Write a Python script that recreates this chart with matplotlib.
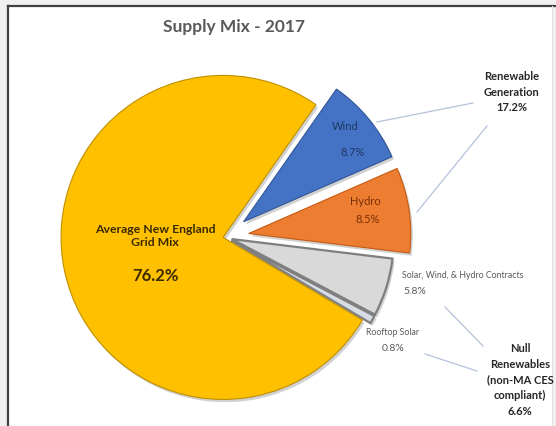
import matplotlib.pyplot as plt
import matplotlib.patheffects as pe
from matplotlib.patches import Rectangle

# Slice data (clockwise from the top right)
labels = ['Wind', 'Hydro', 'Solar, Wind, & Hydro Contracts', 'Rooftop Solar',
          'Average New England Grid Mix']
shares = [8.7, 8.5, 5.8, 0.8, 76.2]
colors = ['#4472C4', '#ED7D31', '#D9D9D9', '#D6DCE4', '#FFC000']
edges = ['#2F5597', '#C55A11', '#7F7F7F', '#7F7F7F', '#BF9000']
explode = [24, 24, 7, 7, 2]   # in pixels, pie uses data units

renewable_total = '17.2%'
null_total = '6.6%'

plt.rcParams['font.family'] = ['Lato', 'DejaVu Sans']

fig = plt.figure(figsize=(5.56, 4.27), dpi=100, facecolor='#EFF0EF')
ax = fig.add_axes([0, 0, 1, 1])

H = 427
# white chart panel with a dark border on top/left
ax.add_patch(Rectangle((8, -5), 544, H - 7 + 5, facecolor='white',
                       edgecolor='none', zorder=0))
ax.plot([8, 8], [-5, H - 7], color='#404040', lw=1.6, zorder=1)
ax.plot([8, 560], [H - 7, H - 7], color='#404040', lw=1.6, zorder=1)
ax.plot([552, 552], [-5, H - 7], color='#E4E4E4', lw=0.8, zorder=1)

center = (225, H - 238)
wedges, _ = ax.pie(shares, colors=colors, explode=explode, startangle=55,
                   counterclock=False, radius=162, center=center,
                   frame=True)
shadow = [pe.SimplePatchShadow(offset=(1.5, -2), shadow_rgbFace='#9A9A9A',
                               alpha=0.45), pe.Normal()]
for w, ec in zip(wedges, edges):
    w.set_edgecolor(ec)
    w.set_linewidth(0.8)
    w.set_zorder(2)
    w.set_path_effects(shadow)
wedges[2].set_linewidth(1.6)
wedges[3].set_linewidth(1.6)
ax.set_xlim(0, 556)
ax.set_ylim(0, 427)
ax.set_aspect('equal')
ax.axis('off')

# title
ax.text(234, H - 27, 'Supply Mix - 2017', ha='center', va='center',
        fontsize=12.5, fontweight='bold', color='#595959')

# slice labels
ax.text(155, H - 236, 'Average New England\nGrid Mix', ha='center',
        va='center', fontsize=8.8, fontweight='bold', color='#3A2A00',
        linespacing=1.3)
ax.text(155, H - 276, '76.2%', ha='center', va='center', fontsize=12,
        fontweight='bold', color='#3A2A00')
ax.text(345, H - 126, labels[0], ha='center', va='center', fontsize=8,
        color='#1F3864')
ax.text(353, H - 152, f'{shares[0]}%', ha='center', va='center',
        fontsize=8, color='#1F3864')
ax.text(365, H - 202, labels[1], ha='center', va='center', fontsize=8,
        color='#7A2E05')
ax.text(368, H - 220, f'{shares[1]}%', ha='center', va='center',
        fontsize=8, color='#7A2E05')
ax.text(463, H - 275, labels[2], ha='center', va='center', fontsize=6.3,
        color='#595959')
ax.text(415, H - 292, f'{shares[2]}%', ha='center', va='center',
        fontsize=7.5, color='#595959')
ax.text(393, H - 333, labels[3], ha='center', va='center', fontsize=6.3,
        color='#595959')
ax.text(393, H - 349, f'{shares[3]}%', ha='center', va='center',
        fontsize=7.5, color='#595959')

# group labels
ax.text(512, H - 92, f'Renewable\nGeneration\n{renewable_total}',
        ha='center', va='center', fontsize=8, fontweight='bold',
        color='#262626', linespacing=1.5)
ax.text(520, H - 380, f'Null\nRenewables\n(non-MA CES\ncompliant)\n{null_total}',
        ha='center', va='center', fontsize=8, fontweight='bold',
        color='#262626', linespacing=1.55)

# leader lines
lc = '#B4C2DA'
ax.plot([377, 473], [H - 123, H - 104], color=lc, lw=0.9, zorder=3)
ax.plot([417, 487], [H - 213, H - 127], color=lc, lw=0.9, zorder=3)
ax.plot([445, 483], [H - 308, H - 347], color=lc, lw=0.9, zorder=3)
ax.plot([425, 477], [H - 355, H - 372], color=lc, lw=0.9, zorder=3)

fig.savefig('out.png', dpi=100, facecolor=fig.get_facecolor())
